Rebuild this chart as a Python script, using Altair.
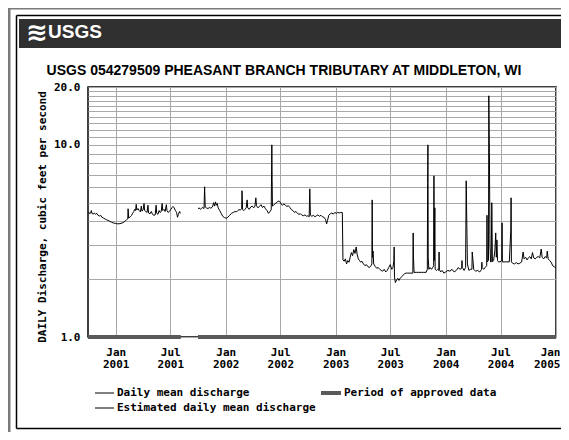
import altair as alt
import pandas as pd

TITLE = "USGS 054279509 PHEASANT BRANCH TRIBUTARY AT MIDDLETON, WI"
Y_TITLE = "DAILY Discharge, cubic feet per second"

# Segment A: Oct 2000 - Aug 2001 (daily mean discharge, cfs)
dates_a = ["2000-10-01","2000-10-04","2000-10-07","2000-10-10","2000-10-12","2000-10-14","2000-10-18","2000-10-22",
           "2000-10-26","2000-10-30","2000-11-03","2000-11-08","2000-11-12","2000-11-16","2000-11-21","2000-11-26",
           "2000-12-01","2000-12-06","2000-12-12","2000-12-18","2000-12-24","2001-01-01","2001-01-08","2001-01-15",
           "2001-01-22","2001-01-28","2001-02-02","2001-02-06","2001-02-10","2001-02-11","2001-02-13","2001-02-18",
           "2001-02-22","2001-02-26","2001-03-02","2001-03-05","2001-03-08","2001-03-10","2001-03-12","2001-03-16",
           "2001-03-20","2001-03-24","2001-03-27","2001-03-29","2001-04-02","2001-04-05","2001-04-07","2001-04-11",
           "2001-04-15","2001-04-18","2001-04-20","2001-04-25","2001-04-29","2001-05-03","2001-05-08","2001-05-12",
           "2001-05-15","2001-05-17","2001-05-21","2001-05-25","2001-05-28","2001-06-01","2001-06-04","2001-06-06",
           "2001-06-10","2001-06-14","2001-06-18","2001-06-20","2001-06-24","2001-06-28","2001-07-03","2001-07-07",
           "2001-07-10","2001-07-14","2001-07-18","2001-07-22","2001-07-25","2001-07-28","2001-08-01","2001-08-04"]
flow_a = [4.40,4.45,4.38,4.42,4.55,4.40,4.36,4.42,
          4.35,4.40,4.30,4.26,4.30,4.20,4.16,4.12,
          4.08,4.05,4.00,3.96,3.92,3.90,3.88,3.89,
          3.92,3.96,4.02,4.08,4.12,4.65,4.16,4.22,
          4.28,4.40,4.50,4.62,4.55,4.90,4.58,4.66,
          4.55,4.48,4.80,4.52,4.60,4.95,4.55,4.50,
          4.45,4.85,4.42,4.38,4.50,4.35,4.30,4.32,
          4.85,4.40,4.35,4.55,4.45,4.50,4.95,4.55,
          4.62,4.50,4.88,4.55,4.45,4.50,4.62,4.72,
          4.78,4.70,4.55,4.45,4.20,4.35,4.50,4.40]

# Segment B: Oct 2001 - Dec 2004
dates_b = ["2001-10-01","2001-10-05","2001-10-09","2001-10-13","2001-10-17","2001-10-21","2001-10-23","2001-10-25",
           "2001-10-29","2001-11-03","2001-11-08","2001-11-13","2001-11-18","2001-11-22","2001-11-25","2001-11-28",
           "2001-12-01","2001-12-04","2001-12-07","2001-12-12","2001-12-17","2001-12-22","2001-12-28","2002-01-03",
           "2002-01-08","2002-01-14","2002-01-20","2002-01-26","2002-02-01","2002-02-06","2002-02-10","2002-02-14",
           "2002-02-18","2002-02-23","2002-02-24","2002-02-26","2002-03-02","2002-03-06","2002-03-10","2002-03-13",
           "2002-03-15","2002-03-20","2002-03-25","2002-03-30","2002-04-04","2002-04-08","2002-04-11","2002-04-13",
           "2002-04-18","2002-04-23","2002-04-28","2002-05-03","2002-05-08","2002-05-13","2002-05-18","2002-05-23",
           "2002-05-28","2002-06-01","2002-06-03","2002-06-04","2002-06-05","2002-06-09","2002-06-14","2002-06-19",
           "2002-06-24","2002-06-29","2002-07-03","2002-07-08","2002-07-13","2002-07-18","2002-07-23","2002-07-28",
           "2002-08-02","2002-08-07","2002-08-12","2002-08-17","2002-08-22","2002-08-27","2002-09-01","2002-09-06",
           "2002-09-11","2002-09-16","2002-09-21","2002-09-26","2002-10-01","2002-10-05","2002-10-07","2002-10-09",
           "2002-10-14","2002-10-19","2002-10-24","2002-10-29","2002-11-03","2002-11-08","2002-11-13","2002-11-18",
           "2002-11-23","2002-11-28","2002-12-02","2002-12-05","2002-12-09","2002-12-14","2002-12-19","2002-12-24",
           "2002-12-29","2003-01-03","2003-01-08","2003-01-13","2003-01-18","2003-01-23",
           "2003-01-25","2003-01-29","2003-02-02","2003-02-06","2003-02-10","2003-02-14","2003-02-18","2003-02-22",
           "2003-02-26","2003-03-02","2003-03-06","2003-03-10","2003-03-13","2003-03-17","2003-03-21","2003-03-25",
           "2003-03-29","2003-04-03","2003-04-08","2003-04-13","2003-04-18","2003-04-23","2003-04-28","2003-05-01",
           "2003-05-02","2003-05-03","2003-05-05","2003-05-07","2003-05-12","2003-05-17","2003-05-22","2003-05-27",
           "2003-06-01","2003-06-06","2003-06-11","2003-06-16","2003-06-21","2003-06-26","2003-07-01","2003-07-06",
           "2003-07-10","2003-07-13","2003-07-14","2003-07-15","2003-07-18","2003-07-22","2003-07-26","2003-07-30",
           "2003-08-03","2003-08-08","2003-08-13","2003-08-18","2003-08-23","2003-08-28","2003-09-02","2003-09-08",
           "2003-09-14","2003-09-15","2003-09-16","2003-09-18","2003-09-25","2003-10-03","2003-10-12","2003-10-20",
           "2003-10-28","2003-11-01","2003-11-02","2003-11-03","2003-11-04","2003-11-06","2003-11-10","2003-11-15",
           "2003-11-19","2003-11-22","2003-11-23","2003-11-24","2003-11-26","2003-11-27","2003-12-01","2003-12-05",
           "2003-12-09","2003-12-10","2003-12-11","2003-12-15","2003-12-20","2003-12-26","2004-01-01","2004-01-08",
           "2004-01-15","2004-01-22","2004-01-29","2004-02-05","2004-02-12","2004-02-17","2004-02-23","2004-02-24",
           "2004-02-25","2004-03-02","2004-03-07","2004-03-08","2004-03-09","2004-03-13","2004-03-18","2004-03-23",
           "2004-03-28","2004-03-29","2004-04-03","2004-04-09","2004-04-16","2004-04-23","2004-04-29","2004-04-30",
           "2004-05-01","2004-05-06","2004-05-11","2004-05-16","2004-05-17","2004-05-18","2004-05-22","2004-05-23",
           "2004-05-25","2004-05-27","2004-05-29","2004-05-31","2004-06-02","2004-06-04","2004-06-08","2004-06-12",
           "2004-06-13","2004-06-15","2004-06-17","2004-06-19","2004-06-21","2004-06-24","2004-06-29","2004-07-05",
           "2004-07-06","2004-07-07","2004-07-14","2004-07-22","2004-07-30","2004-08-04","2004-08-05","2004-08-06",
           "2004-08-10","2004-08-16","2004-08-22","2004-08-28","2004-09-03","2004-09-09","2004-09-14","2004-09-17",
           "2004-09-22","2004-09-27","2004-10-01","2004-10-06","2004-10-11","2004-10-15","2004-10-19","2004-10-24",
           "2004-10-29","2004-11-03","2004-11-08","2004-11-13","2004-11-16","2004-11-21","2004-11-26","2004-12-01",
           "2004-12-03","2004-12-06","2004-12-11","2004-12-16","2004-12-21","2004-12-26","2004-12-31"]
flow_b = [4.65,4.70,4.62,4.68,4.72,4.66,6.05,4.75,
          4.70,4.66,4.72,4.68,4.75,5.00,4.80,5.05,
          4.85,4.95,4.70,4.55,4.40,4.25,4.18,4.15,
          4.20,4.30,4.40,4.45,4.50,4.48,4.55,4.60,
          4.58,4.65,5.77,4.60,4.55,4.62,4.70,5.17,
          4.70,4.62,4.75,4.80,4.70,4.80,5.30,4.82,
          4.70,4.78,4.88,4.72,4.80,4.65,4.55,4.40,
          4.50,4.60,10.0,6.60,4.80,4.85,4.95,5.00,
          5.10,5.08,4.95,4.85,4.92,4.85,4.78,4.82,
          4.72,4.60,4.55,4.45,4.50,4.40,4.35,4.38,
          4.30,4.28,4.32,4.25,4.28,4.22,5.90,4.30,
          4.25,4.30,4.22,4.28,4.32,4.25,4.30,4.22,
          4.20,4.10,3.88,4.05,4.30,4.38,4.42,4.36,
          4.45,4.40,4.45,4.42,4.45,4.44,
          2.52,2.48,2.55,2.40,2.50,2.45,2.60,2.75,
          2.65,2.85,2.72,2.94,2.70,2.55,2.50,2.45,
          2.48,2.40,2.35,2.38,2.32,2.30,2.35,2.40,
          5.17,2.60,2.80,2.40,2.33,2.28,2.30,2.25,
          2.22,2.20,2.25,2.18,2.22,2.30,2.38,2.25,
          2.30,2.50,2.94,2.05,1.92,1.98,2.02,1.97,
          2.02,2.06,2.10,2.14,2.15,2.15,2.15,2.15,
          2.15,3.48,2.60,2.17,2.17,2.17,2.17,2.17,
          2.17,2.25,6.30,10.0,2.60,2.25,2.30,2.25,
          2.30,2.35,6.90,2.50,4.70,2.25,2.22,2.25,
          2.22,2.77,2.25,2.18,2.22,2.15,2.18,2.22,
          2.20,2.25,2.18,2.22,2.30,2.25,2.28,2.50,
          2.30,2.22,2.30,3.83,6.50,2.40,2.22,2.25,
          2.25,2.77,2.25,2.20,2.22,2.18,2.25,2.45,
          2.30,2.25,2.30,2.35,4.30,2.46,2.50,18.0,
          9.10,3.00,2.46,2.46,5.00,2.46,2.50,2.80,
          3.00,3.48,2.60,3.20,2.50,2.46,2.46,2.50,
          3.93,2.46,2.46,2.46,2.46,3.60,5.30,2.46,
          2.42,2.40,2.44,2.40,2.42,2.46,2.77,2.55,
          2.60,2.52,2.58,2.62,2.55,2.75,2.58,2.55,
          2.60,2.62,2.58,2.87,2.60,2.55,2.62,2.58,
          2.80,2.55,2.50,2.45,2.35,2.32,2.29]

# Period of approved data
approved_start = ["2000-10-01", "2001-10-01"]
approved_end = ["2001-08-05", "2005-01-01"]

y_grid = [1, 2, 3, 4, 5, 6, 7, 8, 9, 10, 11, 12, 13, 14, 15, 16, 17, 18, 19, 20]
x_ticks = [(2001, 1), (2001, 7), (2002, 1), (2002, 7), (2003, 1), (2003, 7), (2004, 1), (2004, 7), (2005, 1)]

legend_labels = ["Daily mean discharge", "Estimated daily mean discharge", "Period of approved data"]

MONO = "DejaVu Sans Mono"

df = pd.concat([
    pd.DataFrame({"date": dates_a, "flow": flow_a, "seg": "a"}),
    pd.DataFrame({"date": dates_b, "flow": flow_b, "seg": "b"}),
])
dfa = pd.DataFrame({"date": approved_start, "date2": approved_end, "flow": [1.0, 1.0]})
one = pd.DataFrame({"k": [0]})

xs = alt.Scale(type="utc", domain=[alt.DateTime(year=2000, month=10, date=1, utc=True),
                                   alt.DateTime(year=2005, month=1, date=1, utc=True)])
ys = alt.Scale(type="log", domain=[1, 20])

xaxis = alt.Axis(
    values=[alt.DateTime(year=y, month=m, date=1, utc=True) for y, m in x_ticks],
    labelExpr="[utcFormat(datum.value, '%b'), utcFormat(datum.value, '%Y')]",
    title=None, grid=True, gridColor="#a8a8a8", gridWidth=1, ticks=False, domain=False,
    labelFont=MONO, labelFontWeight="bold", labelFontSize=11, labelColor="#000",
    labelPadding=9, labelLineHeight=12, labelBaseline="top", labelFlush=True, labelFlushOffset=4,
)
yaxis = alt.Axis(
    values=y_grid,
    labelExpr="datum.value == 1 || datum.value == 10 || datum.value == 20 ? format(datum.value, '.1f') : ''",
    title=None, grid=True, gridColor="#a8a8a8", gridWidth=1, ticks=False, domain=False,
    labelFont=MONO, labelFontWeight="bold", labelFontSize=11, labelColor="#000",
    labelPadding=8, labelFlush=False,
)

line = alt.Chart(df).mark_line(color="#000", strokeWidth=1).encode(
    x=alt.X("date:T", scale=xs, axis=xaxis),
    y=alt.Y("flow:Q", scale=ys, axis=yaxis),
    detail="seg:N",
)
approved = alt.Chart(dfa).mark_rule(color="#5a5a5a", strokeWidth=4).encode(
    x=alt.X("date:T", scale=xs, axis=xaxis),
    x2="date2:T",
    y=alt.Y("flow:Q", scale=ys, axis=yaxis),
)

def rule(x1, x2, y1, y2, color, w):
    return alt.Chart(one).mark_rule(color=color, strokeWidth=w).encode(
        x=alt.value(x1), x2=alt.value(x2), y=alt.value(y1), y2=alt.value(y2))

def text(t, x, y, font, size, weight="bold", color="#000", align="left", baseline="middle", angle=0):
    return alt.Chart(one).mark_text(font=font, fontSize=size, fontWeight=weight, color=color,
                                    align=align, baseline=baseline, angle=angle).encode(
        x=alt.value(x), y=alt.value(y), text=alt.value(t))

header = alt.Chart(one).mark_rect(color="#303030").encode(
    x=alt.value(-69), x2=alt.value(473), y=alt.value(-68), y2=alt.value(-39))

decor = [
    rule(-79, -79, -79, 345, "#7a7a7a", 3),
    rule(-79, 473, -79, -79, "#7a7a7a", 3),
    rule(-71.5, -71.5, -71.5, 341.5, "#000", 1.5),
    rule(-71.5, 473, -71.5, -71.5, "#000", 1.5),
    rule(-71.5, 473, 341.5, 341.5, "#000", 1.5),
    header,
    text("\u224b", -62, -54, "DejaVu Sans", 26, color="#fff"),
    text("USGS", -40, -49, "Liberation Sans", 19, color="#fff", baseline="alphabetic"),
    text(TITLE, 196, -12, "Liberation Sans", 14, align="center", baseline="alphabetic"),
    text(Y_TITLE, -45, 130, MONO, 11, align="center", angle=270),
    rule(7, 26, 306, 306, "#000", 1),
    text(legend_labels[0], 29, 306, MONO, 11),
    rule(7, 26, 321, 321, "#000", 1),
    text(legend_labels[1], 29, 321, MONO, 11),
    rule(233, 253, 306, 306, "#5a5a5a", 4),
    text(legend_labels[2], 256, 306, MONO, 11),
]

chart = alt.layer(line, approved, *decor).properties(
    width=468, height=250,
    autosize=alt.AutoSizeParams(type="none"),
    padding={"left": 80, "top": 79, "right": 5, "bottom": 95},
    background="#ffffff",
).configure_view(stroke="#000", strokeWidth=1.5)

chart.save("out.html", embed_options={"renderer": "svg", "actions": False})
